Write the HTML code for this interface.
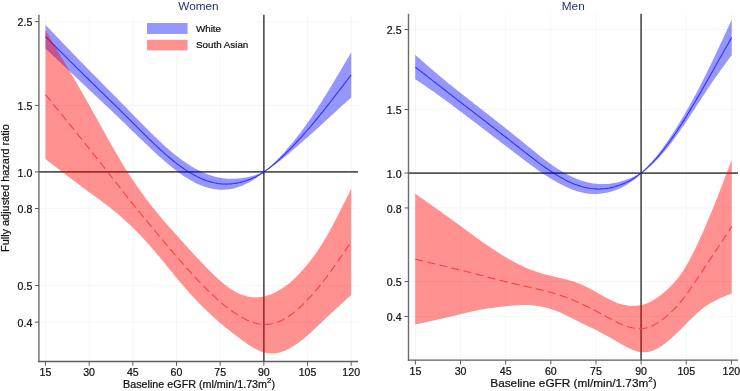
<!DOCTYPE html>
<html><head><meta charset="utf-8"><style>
html,body{margin:0;padding:0;background:#fff;overflow:hidden;width:740px;height:391px;}
svg{display:block;will-change:transform;}
text{font-family:"Liberation Sans",sans-serif;fill:#111;stroke:#111;stroke-width:0.22px;}
.tk{font-size:10.6px;}
.ttl{font-size:11.8px;fill:#23336a;stroke:none;}
.ax{font-size:10.9px;}
.sup{font-size:7.8px;}
.lg{font-size:9.8px;}
.yl{font-size:10.9px;}
</style></head><body>
<svg width="740" height="391" viewBox="0 0 740 391">
<rect width="740" height="391" fill="#fff"/>
<line x1="39.4" x2="358" y1="21.63" y2="21.63" stroke="#f3f7f8" stroke-width="1"/>
<line x1="39.4" x2="358" y1="105.40" y2="105.40" stroke="#f3f7f8" stroke-width="1"/>
<line x1="39.4" x2="358" y1="171.90" y2="171.90" stroke="#f3f7f8" stroke-width="1"/>
<line x1="39.4" x2="358" y1="208.50" y2="208.50" stroke="#f3f7f8" stroke-width="1"/>
<line x1="39.4" x2="358" y1="285.58" y2="285.58" stroke="#f3f7f8" stroke-width="1"/>
<line x1="39.4" x2="358" y1="322.17" y2="322.17" stroke="#f3f7f8" stroke-width="1"/>
<line x1="45.45" x2="45.45" y1="14.7" y2="361.45" stroke="#f3f7f8" stroke-width="1"/>
<line x1="89.13" x2="89.13" y1="14.7" y2="361.45" stroke="#f3f7f8" stroke-width="1"/>
<line x1="132.81" x2="132.81" y1="14.7" y2="361.45" stroke="#f3f7f8" stroke-width="1"/>
<line x1="176.49" x2="176.49" y1="14.7" y2="361.45" stroke="#f3f7f8" stroke-width="1"/>
<line x1="220.17" x2="220.17" y1="14.7" y2="361.45" stroke="#f3f7f8" stroke-width="1"/>
<line x1="263.85" x2="263.85" y1="14.7" y2="361.45" stroke="#f3f7f8" stroke-width="1"/>
<line x1="307.53" x2="307.53" y1="14.7" y2="361.45" stroke="#f3f7f8" stroke-width="1"/>
<line x1="351.21" x2="351.21" y1="14.7" y2="361.45" stroke="#f3f7f8" stroke-width="1"/>
<rect x="142" y="17" width="112" height="37" fill="#fff"/>
<line x1="38.9" x2="358" y1="171.95" y2="171.95" stroke="#555555" stroke-width="1.7"/>
<line x1="263.85" x2="263.85" y1="14.7" y2="361.45" stroke="#555555" stroke-width="1.7"/>
<path d="M45.50,24.84 L47.01,26.41 L48.51,27.99 L50.02,29.57 L51.52,31.15 L53.03,32.73 L54.54,34.30 L56.04,35.88 L57.55,37.46 L59.05,39.03 L60.56,40.61 L62.06,42.18 L63.57,43.75 L65.08,45.32 L66.58,46.89 L68.09,48.46 L69.59,50.03 L71.10,51.59 L72.61,53.16 L74.11,54.72 L75.62,56.28 L77.12,57.84 L78.63,59.40 L80.13,60.95 L81.64,62.50 L83.15,64.05 L84.65,65.60 L86.16,67.14 L87.66,68.68 L89.17,70.21 L90.68,71.74 L92.18,73.27 L93.69,74.79 L95.19,76.31 L96.70,77.83 L98.21,79.34 L99.71,80.86 L101.22,82.37 L102.72,83.89 L104.23,85.40 L105.73,86.92 L107.24,88.43 L108.75,89.95 L110.25,91.47 L111.76,92.99 L113.26,94.51 L114.77,96.04 L116.28,97.57 L117.78,99.11 L119.29,100.65 L120.79,102.19 L122.30,103.73 L123.80,105.28 L125.31,106.83 L126.82,108.37 L128.32,109.92 L129.83,111.47 L131.33,113.01 L132.84,114.56 L134.35,116.10 L135.85,117.64 L137.36,119.17 L138.86,120.71 L140.37,122.23 L141.88,123.76 L143.38,125.28 L144.89,126.79 L146.39,128.30 L147.90,129.80 L149.40,131.29 L150.91,132.77 L152.42,134.25 L153.92,135.72 L155.43,137.17 L156.93,138.62 L158.44,140.05 L159.95,141.47 L161.45,142.87 L162.96,144.26 L164.46,145.63 L165.97,146.98 L167.47,148.32 L168.98,149.63 L170.49,150.92 L171.99,152.20 L173.50,153.45 L175.00,154.67 L176.51,155.87 L178.02,157.05 L179.52,158.20 L181.03,159.33 L182.53,160.43 L184.04,161.50 L185.55,162.55 L187.05,163.56 L188.56,164.55 L190.06,165.50 L191.57,166.43 L193.07,167.32 L194.58,168.19 L196.09,169.02 L197.59,169.82 L199.10,170.58 L200.60,171.32 L202.11,172.02 L203.62,172.69 L205.12,173.32 L206.63,173.93 L208.13,174.49 L209.64,175.03 L211.14,175.52 L212.65,175.99 L214.16,176.41 L215.66,176.81 L217.17,177.16 L218.67,177.48 L220.18,177.77 L221.69,178.01 L223.19,178.22 L224.70,178.40 L226.20,178.54 L227.71,178.65 L229.22,178.72 L230.72,178.76 L232.23,178.77 L233.73,178.75 L235.24,178.70 L236.74,178.61 L238.25,178.50 L239.76,178.36 L241.26,178.19 L242.77,177.99 L244.27,177.77 L245.78,177.51 L247.29,177.23 L248.79,176.92 L250.30,176.58 L251.80,176.20 L253.31,175.79 L254.81,175.33 L256.32,174.84 L257.83,174.31 L259.33,173.74 L260.84,173.12 L262.34,172.46 L263.85,171.74 L265.36,170.80 L266.86,169.54 L268.37,168.24 L269.88,166.89 L271.38,165.50 L272.89,164.08 L274.40,162.62 L275.91,161.13 L277.41,159.61 L278.92,158.06 L280.43,156.48 L281.93,154.86 L283.44,153.22 L284.95,151.54 L286.45,149.84 L287.96,148.10 L289.47,146.34 L290.97,144.54 L292.48,142.72 L293.99,140.86 L295.49,138.98 L297.00,137.06 L298.51,135.11 L300.02,133.14 L301.52,131.13 L303.03,129.10 L304.54,127.03 L306.04,124.94 L307.55,122.81 L309.06,120.65 L310.56,118.47 L312.07,116.25 L313.58,114.01 L315.08,111.74 L316.59,109.44 L318.10,107.12 L319.61,104.77 L321.11,102.40 L322.62,100.00 L324.13,97.59 L325.63,95.16 L327.14,92.71 L328.65,90.24 L330.15,87.76 L331.66,85.27 L333.17,82.77 L334.67,80.26 L336.18,77.74 L337.69,75.21 L339.19,72.68 L340.70,70.15 L342.21,67.61 L343.72,65.06 L345.22,62.51 L346.73,59.96 L348.24,57.41 L349.74,54.86 L351.25,52.31 L351.25,97.41 L349.74,98.77 L348.24,100.14 L346.73,101.51 L345.22,102.88 L343.72,104.24 L342.21,105.62 L340.70,106.99 L339.19,108.37 L337.69,109.74 L336.18,111.13 L334.67,112.51 L333.17,113.90 L331.66,115.29 L330.15,116.69 L328.65,118.08 L327.14,119.47 L325.63,120.87 L324.13,122.25 L322.62,123.64 L321.11,125.02 L319.61,126.40 L318.10,127.77 L316.59,129.14 L315.08,130.50 L313.58,131.85 L312.07,133.20 L310.56,134.54 L309.06,135.88 L307.55,137.22 L306.04,138.54 L304.54,139.87 L303.03,141.19 L301.52,142.51 L300.02,143.82 L298.51,145.13 L297.00,146.44 L295.49,147.75 L293.99,149.05 L292.48,150.35 L290.97,151.64 L289.47,152.92 L287.96,154.20 L286.45,155.46 L284.95,156.72 L283.44,157.95 L281.93,159.18 L280.43,160.39 L278.92,161.57 L277.41,162.74 L275.91,163.88 L274.40,165.00 L272.89,166.09 L271.38,167.14 L269.88,168.17 L268.37,169.15 L266.86,170.10 L265.36,171.00 L263.85,172.13 L262.34,173.39 L260.84,174.60 L259.33,175.76 L257.83,176.87 L256.32,177.94 L254.81,178.96 L253.31,179.93 L251.80,180.85 L250.30,181.72 L248.79,182.55 L247.29,183.34 L245.78,184.08 L244.27,184.77 L242.77,185.42 L241.26,186.03 L239.76,186.59 L238.25,187.11 L236.74,187.58 L235.24,188.01 L233.73,188.39 L232.23,188.73 L230.72,189.02 L229.22,189.26 L227.71,189.46 L226.20,189.61 L224.70,189.72 L223.19,189.78 L221.69,189.79 L220.18,189.75 L218.67,189.67 L217.17,189.54 L215.66,189.36 L214.16,189.14 L212.65,188.87 L211.14,188.56 L209.64,188.21 L208.13,187.81 L206.63,187.37 L205.12,186.89 L203.62,186.36 L202.11,185.80 L200.60,185.20 L199.10,184.56 L197.59,183.88 L196.09,183.16 L194.58,182.41 L193.07,181.62 L191.57,180.79 L190.06,179.93 L188.56,179.04 L187.05,178.11 L185.55,177.15 L184.04,176.16 L182.53,175.14 L181.03,174.10 L179.52,173.02 L178.02,171.92 L176.51,170.79 L175.00,169.64 L173.50,168.46 L171.99,167.26 L170.49,166.04 L168.98,164.80 L167.47,163.54 L165.97,162.27 L164.46,160.97 L162.96,159.66 L161.45,158.33 L159.95,156.99 L158.44,155.64 L156.93,154.27 L155.43,152.90 L153.92,151.51 L152.42,150.11 L150.91,148.70 L149.40,147.29 L147.90,145.87 L146.39,144.44 L144.89,143.00 L143.38,141.56 L141.88,140.12 L140.37,138.67 L138.86,137.22 L137.36,135.76 L135.85,134.30 L134.35,132.84 L132.84,131.38 L131.33,129.91 L129.83,128.45 L128.32,126.98 L126.82,125.52 L125.31,124.06 L123.80,122.59 L122.30,121.13 L120.79,119.68 L119.29,118.22 L117.78,116.77 L116.28,115.33 L114.77,113.88 L113.26,112.45 L111.76,111.02 L110.25,109.59 L108.75,108.16 L107.24,106.74 L105.73,105.33 L104.23,103.91 L102.72,102.50 L101.22,101.08 L99.71,99.67 L98.21,98.26 L96.70,96.85 L95.19,95.44 L93.69,94.02 L92.18,92.61 L90.68,91.19 L89.17,89.77 L87.66,88.35 L86.16,86.93 L84.65,85.50 L83.15,84.08 L81.64,82.65 L80.13,81.22 L78.63,79.79 L77.12,78.36 L75.62,76.93 L74.11,75.51 L72.61,74.08 L71.10,72.66 L69.59,71.23 L68.09,69.81 L66.58,68.39 L65.08,66.97 L63.57,65.55 L62.06,64.14 L60.56,62.72 L59.05,61.30 L57.55,59.89 L56.04,58.47 L54.54,57.06 L53.03,55.64 L51.52,54.23 L50.02,52.82 L48.51,51.40 L47.01,49.99 L45.50,48.58 Z" fill="rgba(0,0,255,0.41)"/>
<path d="M45.50,36.71 L47.01,38.20 L48.51,39.70 L50.02,41.19 L51.52,42.69 L53.03,44.18 L54.54,45.68 L56.04,47.18 L57.55,48.67 L59.05,50.17 L60.56,51.66 L62.06,53.16 L63.57,54.65 L65.08,56.15 L66.58,57.64 L68.09,59.14 L69.59,60.63 L71.10,62.13 L72.61,63.62 L74.11,65.11 L75.62,66.61 L77.12,68.10 L78.63,69.59 L80.13,71.08 L81.64,72.57 L83.15,74.06 L84.65,75.55 L86.16,77.03 L87.66,78.51 L89.17,79.99 L90.68,81.47 L92.18,82.94 L93.69,84.41 L95.19,85.87 L96.70,87.34 L98.21,88.80 L99.71,90.27 L101.22,91.73 L102.72,93.19 L104.23,94.66 L105.73,96.12 L107.24,97.59 L108.75,99.06 L110.25,100.53 L111.76,102.00 L113.26,103.48 L114.77,104.96 L116.28,106.45 L117.78,107.94 L119.29,109.44 L120.79,110.93 L122.30,112.43 L123.80,113.94 L125.31,115.44 L126.82,116.95 L128.32,118.45 L129.83,119.96 L131.33,121.46 L132.84,122.97 L134.35,124.47 L135.85,125.97 L137.36,127.47 L138.86,128.96 L140.37,130.45 L141.88,131.94 L143.38,133.42 L144.89,134.90 L146.39,136.37 L147.90,137.83 L149.40,139.29 L150.91,140.74 L152.42,142.18 L153.92,143.61 L155.43,145.03 L156.93,146.45 L158.44,147.84 L159.95,149.23 L161.45,150.60 L162.96,151.96 L164.46,153.30 L165.97,154.62 L167.47,155.93 L168.98,157.22 L170.49,158.48 L171.99,159.73 L173.50,160.95 L175.00,162.15 L176.51,163.33 L178.02,164.48 L179.52,165.61 L181.03,166.71 L182.53,167.79 L184.04,168.83 L185.55,169.85 L187.05,170.84 L188.56,171.79 L190.06,172.72 L191.57,173.61 L193.07,174.47 L194.58,175.30 L196.09,176.09 L197.59,176.85 L199.10,177.57 L200.60,178.26 L202.11,178.91 L203.62,179.53 L205.12,180.11 L206.63,180.65 L208.13,181.15 L209.64,181.62 L211.14,182.04 L212.65,182.43 L214.16,182.78 L215.66,183.08 L217.17,183.35 L218.67,183.58 L220.18,183.76 L221.69,183.90 L223.19,184.00 L224.70,184.06 L226.20,184.08 L227.71,184.05 L229.22,183.99 L230.72,183.89 L232.23,183.75 L233.73,183.57 L235.24,183.35 L236.74,183.10 L238.25,182.80 L239.76,182.48 L241.26,182.11 L242.77,181.71 L244.27,181.27 L245.78,180.80 L247.29,180.29 L248.79,179.74 L250.30,179.15 L251.80,178.52 L253.31,177.86 L254.81,177.15 L256.32,176.39 L257.83,175.59 L259.33,174.75 L260.84,173.86 L262.34,172.92 L263.85,171.94 L265.36,170.90 L266.86,169.82 L268.37,168.69 L269.88,167.53 L271.38,166.32 L272.89,165.08 L274.40,163.81 L275.91,162.51 L277.41,161.18 L278.92,159.82 L280.43,158.43 L281.93,157.02 L283.44,155.59 L284.95,154.13 L286.45,152.65 L287.96,151.15 L289.47,149.63 L290.97,148.09 L292.48,146.53 L293.99,144.96 L295.49,143.36 L297.00,141.75 L298.51,140.12 L300.02,138.48 L301.52,136.82 L303.03,135.14 L304.54,133.45 L306.04,131.74 L307.55,130.01 L309.06,128.27 L310.56,126.51 L312.07,124.73 L313.58,122.93 L315.08,121.12 L316.59,119.29 L318.10,117.44 L319.61,115.58 L321.11,113.71 L322.62,111.82 L324.13,109.92 L325.63,108.01 L327.14,106.09 L328.65,104.16 L330.15,102.22 L331.66,100.28 L333.17,98.34 L334.67,96.38 L336.18,94.43 L337.69,92.48 L339.19,90.52 L340.70,88.57 L342.21,86.61 L343.72,84.65 L345.22,82.69 L346.73,80.74 L348.24,78.78 L349.74,76.82 L351.25,74.86" fill="none" stroke="rgba(0,0,255,0.68)" stroke-width="1.1"/>
<path d="M45.50,30.31 L47.01,32.84 L48.51,35.37 L50.02,37.91 L51.52,40.44 L53.03,42.97 L54.54,45.51 L56.04,48.05 L57.55,50.59 L59.06,53.13 L60.56,55.68 L62.07,58.23 L63.57,60.78 L65.08,63.34 L66.59,65.90 L68.09,68.46 L69.60,71.03 L71.10,73.61 L72.61,76.19 L74.12,78.78 L75.62,81.37 L77.13,83.97 L78.64,86.58 L80.14,89.19 L81.65,91.82 L83.15,94.45 L84.66,97.09 L86.17,99.74 L87.67,102.40 L89.18,105.08 L90.68,107.76 L92.19,110.45 L93.70,113.15 L95.20,115.85 L96.71,118.56 L98.22,121.27 L99.72,123.98 L101.23,126.69 L102.73,129.40 L104.24,132.10 L105.75,134.79 L107.25,137.48 L108.76,140.15 L110.26,142.82 L111.77,145.47 L113.28,148.10 L114.78,150.72 L116.29,153.32 L117.80,155.90 L119.30,158.45 L120.81,160.98 L122.31,163.48 L123.82,165.96 L125.33,168.40 L126.83,170.81 L128.34,173.19 L129.84,175.53 L131.35,177.84 L132.86,180.11 L134.36,182.35 L135.87,184.55 L137.38,186.72 L138.88,188.86 L140.39,190.97 L141.89,193.05 L143.40,195.10 L144.91,197.13 L146.41,199.13 L147.92,201.11 L149.42,203.07 L150.93,205.00 L152.44,206.92 L153.94,208.81 L155.45,210.69 L156.96,212.54 L158.46,214.37 L159.97,216.19 L161.47,217.98 L162.98,219.76 L164.49,221.52 L165.99,223.26 L167.50,224.99 L169.00,226.71 L170.51,228.42 L172.02,230.12 L173.52,231.82 L175.03,233.51 L176.54,235.19 L178.04,236.86 L179.55,238.54 L181.05,240.20 L182.56,241.87 L184.07,243.53 L185.57,245.19 L187.08,246.84 L188.58,248.49 L190.09,250.13 L191.60,251.77 L193.10,253.40 L194.61,255.02 L196.12,256.64 L197.62,258.25 L199.13,259.85 L200.63,261.45 L202.14,263.03 L203.65,264.60 L205.15,266.16 L206.66,267.71 L208.17,269.24 L209.67,270.76 L211.18,272.27 L212.68,273.75 L214.19,275.21 L215.70,276.65 L217.20,278.06 L218.71,279.43 L220.21,280.77 L221.72,282.07 L223.23,283.33 L224.73,284.54 L226.24,285.71 L227.75,286.83 L229.25,287.90 L230.76,288.92 L232.26,289.88 L233.77,290.80 L235.28,291.66 L236.78,292.46 L238.29,293.20 L239.79,293.89 L241.30,294.52 L242.81,295.08 L244.31,295.59 L245.82,296.04 L247.33,296.42 L248.83,296.75 L250.34,297.01 L251.84,297.21 L253.35,297.34 L254.86,297.41 L256.36,297.42 L257.87,297.36 L259.37,297.24 L260.88,297.06 L262.39,296.82 L263.89,296.51 L265.40,296.15 L266.91,295.73 L268.41,295.25 L269.92,294.72 L271.42,294.13 L272.93,293.49 L274.44,292.80 L275.94,292.06 L277.45,291.27 L278.95,290.43 L280.46,289.53 L281.97,288.59 L283.47,287.58 L284.98,286.53 L286.49,285.41 L287.99,284.24 L289.50,283.02 L291.00,281.75 L292.51,280.42 L294.02,279.04 L295.52,277.60 L297.03,276.11 L298.53,274.57 L300.04,272.97 L301.55,271.32 L303.05,269.61 L304.56,267.86 L306.07,266.06 L307.57,264.21 L309.08,262.32 L310.58,260.39 L312.09,258.41 L313.60,256.38 L315.10,254.30 L316.61,252.16 L318.11,249.96 L319.62,247.70 L321.13,245.38 L322.63,242.98 L324.14,240.53 L325.65,238.00 L327.15,235.42 L328.66,232.77 L330.16,230.06 L331.67,227.30 L333.18,224.48 L334.68,221.62 L336.19,218.71 L337.69,215.77 L339.20,212.80 L340.71,209.81 L342.21,206.80 L343.72,203.78 L345.23,200.76 L346.73,197.72 L348.24,194.68 L349.74,191.63 L351.25,188.58 L351.25,295.06 L349.74,296.40 L348.24,297.75 L346.73,299.10 L345.23,300.45 L343.72,301.81 L342.21,303.17 L340.71,304.53 L339.20,305.90 L337.69,307.27 L336.19,308.65 L334.68,310.04 L333.18,311.43 L331.67,312.84 L330.16,314.24 L328.66,315.66 L327.15,317.08 L325.65,318.51 L324.14,319.94 L322.63,321.37 L321.13,322.80 L319.62,324.23 L318.11,325.66 L316.61,327.08 L315.10,328.50 L313.60,329.90 L312.09,331.29 L310.58,332.66 L309.08,334.01 L307.57,335.33 L306.07,336.64 L304.56,337.91 L303.05,339.15 L301.55,340.36 L300.04,341.53 L298.53,342.66 L297.03,343.75 L295.52,344.79 L294.02,345.78 L292.51,346.73 L291.00,347.62 L289.50,348.47 L287.99,349.26 L286.49,349.99 L284.98,350.66 L283.47,351.27 L281.97,351.81 L280.46,352.28 L278.95,352.67 L277.45,353.00 L275.94,353.25 L274.44,353.42 L272.93,353.51 L271.42,353.52 L269.92,353.45 L268.41,353.30 L266.91,353.07 L265.40,352.76 L263.89,352.38 L262.39,351.92 L260.88,351.38 L259.37,350.78 L257.87,350.11 L256.36,349.37 L254.86,348.58 L253.35,347.73 L251.84,346.84 L250.34,345.89 L248.83,344.91 L247.33,343.89 L245.82,342.84 L244.31,341.77 L242.81,340.67 L241.30,339.56 L239.79,338.44 L238.29,337.31 L236.78,336.17 L235.28,335.03 L233.77,333.88 L232.26,332.72 L230.76,331.55 L229.25,330.37 L227.75,329.18 L226.24,327.98 L224.73,326.76 L223.23,325.52 L221.72,324.27 L220.21,322.99 L218.71,321.69 L217.20,320.37 L215.70,319.02 L214.19,317.66 L212.68,316.28 L211.18,314.89 L209.67,313.49 L208.17,312.08 L206.66,310.66 L205.15,309.22 L203.65,307.77 L202.14,306.30 L200.63,304.81 L199.13,303.30 L197.62,301.77 L196.12,300.21 L194.61,298.62 L193.10,297.00 L191.60,295.36 L190.09,293.68 L188.58,291.99 L187.08,290.27 L185.57,288.54 L184.07,286.78 L182.56,285.02 L181.05,283.23 L179.55,281.44 L178.04,279.63 L176.54,277.82 L175.03,275.99 L173.52,274.17 L172.02,272.33 L170.51,270.49 L169.00,268.65 L167.50,266.80 L165.99,264.96 L164.49,263.11 L162.98,261.27 L161.47,259.44 L159.97,257.61 L158.46,255.80 L156.96,253.99 L155.45,252.20 L153.94,250.42 L152.44,248.66 L150.93,246.92 L149.42,245.20 L147.92,243.50 L146.41,241.83 L144.91,240.17 L143.40,238.54 L141.89,236.93 L140.39,235.34 L138.88,233.78 L137.38,232.23 L135.87,230.70 L134.36,229.20 L132.86,227.71 L131.35,226.25 L129.84,224.80 L128.34,223.38 L126.83,221.97 L125.33,220.59 L123.82,219.23 L122.31,217.88 L120.81,216.55 L119.30,215.25 L117.80,213.96 L116.29,212.69 L114.78,211.44 L113.28,210.20 L111.77,208.99 L110.26,207.79 L108.76,206.61 L107.25,205.45 L105.75,204.30 L104.24,203.17 L102.73,202.04 L101.23,200.93 L99.72,199.82 L98.22,198.72 L96.71,197.63 L95.20,196.54 L93.70,195.45 L92.19,194.36 L90.68,193.27 L89.18,192.18 L87.67,191.08 L86.17,189.97 L84.66,188.86 L83.15,187.75 L81.65,186.63 L80.14,185.51 L78.64,184.38 L77.13,183.25 L75.62,182.12 L74.12,180.99 L72.61,179.85 L71.10,178.71 L69.60,177.56 L68.09,176.42 L66.59,175.27 L65.08,174.12 L63.57,172.97 L62.07,171.82 L60.56,170.67 L59.06,169.52 L57.55,168.36 L56.04,167.20 L54.54,166.05 L53.03,164.89 L51.52,163.73 L50.02,162.57 L48.51,161.41 L47.01,160.25 L45.50,159.09 Z" fill="rgba(255,0,0,0.43)"/>
<path d="M45.50,94.70 L47.01,96.55 L48.51,98.39 L50.02,100.24 L51.52,102.09 L53.03,103.93 L54.54,105.78 L56.04,107.63 L57.55,109.47 L59.06,111.32 L60.56,113.17 L62.07,115.02 L63.57,116.88 L65.08,118.73 L66.59,120.58 L68.09,122.44 L69.60,124.30 L71.10,126.16 L72.61,128.02 L74.12,129.88 L75.62,131.75 L77.13,133.61 L78.64,135.48 L80.14,137.35 L81.65,139.22 L83.15,141.10 L84.66,142.98 L86.17,144.86 L87.67,146.74 L89.18,148.63 L90.68,150.51 L92.19,152.41 L93.70,154.30 L95.20,156.20 L96.71,158.10 L98.22,160.00 L99.72,161.90 L101.23,163.81 L102.73,165.72 L104.24,167.63 L105.75,169.55 L107.25,171.46 L108.76,173.38 L110.26,175.30 L111.77,177.23 L113.28,179.15 L114.78,181.08 L116.29,183.00 L117.80,184.93 L119.30,186.85 L120.81,188.77 L122.31,190.68 L123.82,192.59 L125.33,194.50 L126.83,196.39 L128.34,198.28 L129.84,200.17 L131.35,202.04 L132.86,203.91 L134.36,205.77 L135.87,207.63 L137.38,209.47 L138.88,211.32 L140.39,213.16 L141.89,214.99 L143.40,216.82 L144.91,218.65 L146.41,220.48 L147.92,222.31 L149.42,224.13 L150.93,225.96 L152.44,227.79 L153.94,229.62 L155.45,231.44 L156.96,233.26 L158.46,235.08 L159.97,236.90 L161.47,238.71 L162.98,240.52 L164.49,242.31 L165.99,244.11 L167.50,245.90 L169.00,247.68 L170.51,249.46 L172.02,251.23 L173.52,252.99 L175.03,254.75 L176.54,256.50 L178.04,258.25 L179.55,259.99 L181.05,261.72 L182.56,263.44 L184.07,265.16 L185.57,266.86 L187.08,268.56 L188.58,270.24 L190.09,271.91 L191.60,273.56 L193.10,275.20 L194.61,276.82 L196.12,278.42 L197.62,280.01 L199.13,281.58 L200.63,283.13 L202.14,284.67 L203.65,286.19 L205.15,287.69 L206.66,289.18 L208.17,290.66 L209.67,292.13 L211.18,293.58 L212.68,295.02 L214.19,296.44 L215.70,297.84 L217.20,299.21 L218.71,300.56 L220.21,301.88 L221.72,303.17 L223.23,304.43 L224.73,305.65 L226.24,306.84 L227.75,308.00 L229.25,309.13 L230.76,310.23 L232.26,311.30 L233.77,312.34 L235.28,313.34 L236.78,314.31 L238.29,315.26 L239.79,316.16 L241.30,317.04 L242.81,317.88 L244.31,318.68 L245.82,319.44 L247.33,320.16 L248.83,320.83 L250.34,321.45 L251.84,322.02 L253.35,322.54 L254.86,323.00 L256.36,323.40 L257.87,323.73 L259.37,324.01 L260.88,324.22 L262.39,324.37 L263.89,324.45 L265.40,324.46 L266.91,324.40 L268.41,324.27 L269.92,324.08 L271.42,323.83 L272.93,323.50 L274.44,323.11 L275.94,322.66 L277.45,322.14 L278.95,321.55 L280.46,320.91 L281.97,320.20 L283.47,319.43 L284.98,318.59 L286.49,317.70 L287.99,316.75 L289.50,315.74 L291.00,314.68 L292.51,313.57 L294.02,312.41 L295.52,311.20 L297.03,309.93 L298.53,308.61 L300.04,307.25 L301.55,305.84 L303.05,304.38 L304.56,302.88 L306.07,301.35 L307.57,299.77 L309.08,298.16 L310.58,296.52 L312.09,294.85 L313.60,293.14 L315.10,291.40 L316.61,289.62 L318.11,287.81 L319.62,285.97 L321.13,284.09 L322.63,282.18 L324.14,280.23 L325.65,278.26 L327.15,276.25 L328.66,274.22 L330.16,272.15 L331.67,270.07 L333.18,267.96 L334.68,265.83 L336.19,263.68 L337.69,261.52 L339.20,259.35 L340.71,257.17 L342.21,254.98 L343.72,252.80 L345.23,250.60 L346.73,248.41 L348.24,246.21 L349.74,244.02 L351.25,241.82" fill="none" stroke="#ff3c3c" stroke-width="1.1" stroke-dasharray="8.2 4.2"/>
<line x1="38.9" x2="38.9" y1="14.7" y2="362.15" stroke="#6c6c6c" stroke-width="1.4"/>
<line x1="38.199999999999996" x2="358" y1="361.45" y2="361.45" stroke="#5c5c5c" stroke-width="1.4"/>
<line x1="34.9" x2="38.9" y1="21.63" y2="21.63" stroke="#5c5c5c" stroke-width="1"/>
<text x="32.3" y="26.43" text-anchor="end" class="tk">2.5</text>
<line x1="34.9" x2="38.9" y1="105.40" y2="105.40" stroke="#5c5c5c" stroke-width="1"/>
<text x="32.3" y="110.20" text-anchor="end" class="tk">1.5</text>
<line x1="34.9" x2="38.9" y1="171.90" y2="171.90" stroke="#5c5c5c" stroke-width="1"/>
<text x="32.3" y="176.70" text-anchor="end" class="tk">1.0</text>
<line x1="34.9" x2="38.9" y1="208.50" y2="208.50" stroke="#5c5c5c" stroke-width="1"/>
<text x="32.3" y="213.30" text-anchor="end" class="tk">0.8</text>
<line x1="34.9" x2="38.9" y1="285.58" y2="285.58" stroke="#5c5c5c" stroke-width="1"/>
<text x="32.3" y="290.38" text-anchor="end" class="tk">0.5</text>
<line x1="34.9" x2="38.9" y1="322.17" y2="322.17" stroke="#5c5c5c" stroke-width="1"/>
<text x="32.3" y="326.97" text-anchor="end" class="tk">0.4</text>
<line x1="45.45" x2="45.45" y1="361.45" y2="365.75" stroke="#5c5c5c" stroke-width="1"/>
<text x="45.45" y="375.80" text-anchor="middle" class="tk">15</text>
<line x1="89.13" x2="89.13" y1="361.45" y2="365.75" stroke="#5c5c5c" stroke-width="1"/>
<text x="89.13" y="375.80" text-anchor="middle" class="tk">30</text>
<line x1="132.81" x2="132.81" y1="361.45" y2="365.75" stroke="#5c5c5c" stroke-width="1"/>
<text x="132.81" y="375.80" text-anchor="middle" class="tk">45</text>
<line x1="176.49" x2="176.49" y1="361.45" y2="365.75" stroke="#5c5c5c" stroke-width="1"/>
<text x="176.49" y="375.80" text-anchor="middle" class="tk">60</text>
<line x1="220.17" x2="220.17" y1="361.45" y2="365.75" stroke="#5c5c5c" stroke-width="1"/>
<text x="220.17" y="375.80" text-anchor="middle" class="tk">75</text>
<line x1="263.85" x2="263.85" y1="361.45" y2="365.75" stroke="#5c5c5c" stroke-width="1"/>
<text x="263.85" y="375.80" text-anchor="middle" class="tk">90</text>
<line x1="307.53" x2="307.53" y1="361.45" y2="365.75" stroke="#5c5c5c" stroke-width="1"/>
<text x="307.53" y="375.80" text-anchor="middle" class="tk">105</text>
<line x1="351.21" x2="351.21" y1="361.45" y2="365.75" stroke="#5c5c5c" stroke-width="1"/>
<text x="351.21" y="375.80" text-anchor="middle" class="tk">120</text>
<text x="198.45" y="10.2" text-anchor="middle" class="ttl">Women</text>
<text x="199.05" y="387.70" text-anchor="middle" class="ax" style="font-size:10.75px">Baseline eGFR (ml/min/1.73m<tspan class="sup" dy="-4.6">2</tspan><tspan dy="4.6">)</tspan></text>
<line x1="409.0" x2="738" y1="29.51" y2="29.51" stroke="#f3f7f8" stroke-width="1"/>
<line x1="409.0" x2="738" y1="109.50" y2="109.50" stroke="#f3f7f8" stroke-width="1"/>
<line x1="409.0" x2="738" y1="173.00" y2="173.00" stroke="#f3f7f8" stroke-width="1"/>
<line x1="409.0" x2="738" y1="207.94" y2="207.94" stroke="#f3f7f8" stroke-width="1"/>
<line x1="409.0" x2="738" y1="281.55" y2="281.55" stroke="#f3f7f8" stroke-width="1"/>
<line x1="409.0" x2="738" y1="316.49" y2="316.49" stroke="#f3f7f8" stroke-width="1"/>
<line x1="415.40" x2="415.40" y1="13.7" y2="360.15" stroke="#f3f7f8" stroke-width="1"/>
<line x1="460.54" x2="460.54" y1="13.7" y2="360.15" stroke="#f3f7f8" stroke-width="1"/>
<line x1="505.68" x2="505.68" y1="13.7" y2="360.15" stroke="#f3f7f8" stroke-width="1"/>
<line x1="550.83" x2="550.83" y1="13.7" y2="360.15" stroke="#f3f7f8" stroke-width="1"/>
<line x1="595.97" x2="595.97" y1="13.7" y2="360.15" stroke="#f3f7f8" stroke-width="1"/>
<line x1="641.11" x2="641.11" y1="13.7" y2="360.15" stroke="#f3f7f8" stroke-width="1"/>
<line x1="686.25" x2="686.25" y1="13.7" y2="360.15" stroke="#f3f7f8" stroke-width="1"/>
<line x1="731.40" x2="731.40" y1="13.7" y2="360.15" stroke="#f3f7f8" stroke-width="1"/>
<line x1="408.5" x2="738" y1="173.10" y2="173.10" stroke="#555555" stroke-width="1.7"/>
<line x1="641.10" x2="641.10" y1="13.7" y2="360.15" stroke="#555555" stroke-width="1.7"/>
<path d="M415.25,54.80 L416.76,56.13 L418.26,57.47 L419.77,58.80 L421.27,60.12 L422.78,61.45 L424.28,62.77 L425.79,64.09 L427.30,65.41 L428.80,66.72 L430.31,68.02 L431.81,69.32 L433.32,70.61 L434.82,71.90 L436.33,73.18 L437.83,74.45 L439.34,75.72 L440.85,76.97 L442.35,78.23 L443.86,79.47 L445.36,80.72 L446.87,81.95 L448.37,83.18 L449.88,84.40 L451.39,85.62 L452.89,86.84 L454.40,88.04 L455.90,89.25 L457.41,90.45 L458.91,91.64 L460.42,92.84 L461.93,94.03 L463.43,95.21 L464.94,96.39 L466.44,97.58 L467.95,98.75 L469.45,99.93 L470.96,101.11 L472.47,102.28 L473.97,103.46 L475.48,104.63 L476.98,105.81 L478.49,106.99 L479.99,108.16 L481.50,109.34 L483.00,110.52 L484.51,111.69 L486.02,112.87 L487.52,114.05 L489.03,115.23 L490.53,116.41 L492.04,117.59 L493.54,118.77 L495.05,119.94 L496.56,121.12 L498.06,122.31 L499.57,123.49 L501.07,124.67 L502.58,125.86 L504.08,127.05 L505.59,128.24 L507.10,129.43 L508.60,130.62 L510.11,131.82 L511.61,133.02 L513.12,134.22 L514.62,135.43 L516.13,136.64 L517.64,137.85 L519.14,139.06 L520.65,140.28 L522.15,141.50 L523.66,142.72 L525.16,143.94 L526.67,145.17 L528.17,146.39 L529.68,147.62 L531.19,148.85 L532.69,150.08 L534.20,151.31 L535.70,152.53 L537.21,153.75 L538.71,154.95 L540.22,156.15 L541.73,157.33 L543.23,158.50 L544.74,159.66 L546.24,160.80 L547.75,161.92 L549.25,163.02 L550.76,164.09 L552.27,165.15 L553.77,166.17 L555.28,167.18 L556.78,168.16 L558.29,169.13 L559.79,170.06 L561.30,170.98 L562.81,171.88 L564.31,172.75 L565.82,173.60 L567.32,174.42 L568.83,175.22 L570.33,175.99 L571.84,176.72 L573.35,177.42 L574.85,178.09 L576.36,178.72 L577.86,179.32 L579.37,179.88 L580.87,180.41 L582.38,180.91 L583.88,181.37 L585.39,181.79 L586.90,182.18 L588.40,182.54 L589.91,182.86 L591.41,183.14 L592.92,183.39 L594.42,183.60 L595.93,183.78 L597.44,183.92 L598.94,184.02 L600.45,184.09 L601.95,184.12 L603.46,184.12 L604.96,184.08 L606.47,184.01 L607.98,183.90 L609.48,183.76 L610.99,183.58 L612.49,183.37 L614.00,183.12 L615.50,182.83 L617.01,182.50 L618.51,182.13 L620.02,181.73 L621.53,181.30 L623.03,180.83 L624.54,180.33 L626.04,179.81 L627.55,179.25 L629.05,178.66 L630.56,178.05 L632.07,177.39 L633.57,176.70 L635.08,175.97 L636.58,175.20 L638.09,174.39 L639.59,173.53 L641.10,172.61 L642.61,171.58 L644.12,170.10 L645.63,168.57 L647.14,166.99 L648.65,165.36 L650.16,163.68 L651.67,161.96 L653.18,160.19 L654.69,158.38 L656.20,156.53 L657.71,154.64 L659.22,152.70 L660.73,150.73 L662.24,148.71 L663.75,146.65 L665.26,144.54 L666.77,142.40 L668.28,140.21 L669.79,137.98 L671.30,135.71 L672.81,133.40 L674.32,131.06 L675.83,128.68 L677.34,126.26 L678.85,123.81 L680.36,121.33 L681.87,118.82 L683.38,116.28 L684.89,113.71 L686.40,111.10 L687.91,108.47 L689.42,105.80 L690.93,103.10 L692.44,100.36 L693.95,97.59 L695.46,94.79 L696.97,91.94 L698.48,89.06 L699.99,86.15 L701.50,83.20 L703.01,80.23 L704.52,77.22 L706.03,74.18 L707.54,71.12 L709.05,68.03 L710.56,64.92 L712.07,61.78 L713.58,58.63 L715.09,55.46 L716.60,52.28 L718.11,49.08 L719.62,45.86 L721.13,42.62 L722.64,39.38 L724.15,36.12 L725.66,32.86 L727.17,29.59 L728.68,26.31 L730.19,23.04 L731.70,19.76 L731.70,55.15 L730.19,57.19 L728.68,59.23 L727.17,61.27 L725.66,63.33 L724.15,65.39 L722.64,67.47 L721.13,69.55 L719.62,71.66 L718.11,73.78 L716.60,75.92 L715.09,78.08 L713.58,80.26 L712.07,82.46 L710.56,84.67 L709.05,86.91 L707.54,89.17 L706.03,91.45 L704.52,93.74 L703.01,96.05 L701.50,98.37 L699.99,100.69 L698.48,103.01 L696.97,105.34 L695.46,107.66 L693.95,109.97 L692.44,112.28 L690.93,114.58 L689.42,116.87 L687.91,119.15 L686.40,121.41 L684.89,123.66 L683.38,125.90 L681.87,128.11 L680.36,130.31 L678.85,132.48 L677.34,134.62 L675.83,136.74 L674.32,138.82 L672.81,140.87 L671.30,142.89 L669.79,144.86 L668.28,146.79 L666.77,148.67 L665.26,150.51 L663.75,152.30 L662.24,154.05 L660.73,155.75 L659.22,157.39 L657.71,158.99 L656.20,160.54 L654.69,162.04 L653.18,163.49 L651.67,164.89 L650.16,166.23 L648.65,167.53 L647.14,168.77 L645.63,169.95 L644.12,171.09 L642.61,172.17 L641.10,173.58 L639.59,175.01 L638.09,176.38 L636.58,177.69 L635.08,178.95 L633.57,180.14 L632.07,181.27 L630.56,182.35 L629.05,183.37 L627.55,184.33 L626.04,185.25 L624.54,186.11 L623.03,186.92 L621.53,187.69 L620.02,188.40 L618.51,189.07 L617.01,189.69 L615.50,190.27 L614.00,190.79 L612.49,191.28 L610.99,191.72 L609.48,192.12 L607.98,192.48 L606.47,192.81 L604.96,193.09 L603.46,193.34 L601.95,193.55 L600.45,193.73 L598.94,193.86 L597.44,193.96 L595.93,194.01 L594.42,194.02 L592.92,193.98 L591.41,193.91 L589.91,193.79 L588.40,193.64 L586.90,193.44 L585.39,193.20 L583.88,192.93 L582.38,192.61 L580.87,192.26 L579.37,191.86 L577.86,191.43 L576.36,190.97 L574.85,190.46 L573.35,189.92 L571.84,189.34 L570.33,188.73 L568.83,188.09 L567.32,187.41 L565.82,186.71 L564.31,185.98 L562.81,185.24 L561.30,184.47 L559.79,183.69 L558.29,182.88 L556.78,182.06 L555.28,181.22 L553.77,180.36 L552.27,179.48 L550.76,178.57 L549.25,177.65 L547.75,176.70 L546.24,175.74 L544.74,174.75 L543.23,173.75 L541.73,172.73 L540.22,171.70 L538.71,170.65 L537.21,169.59 L535.70,168.51 L534.20,167.43 L532.69,166.34 L531.19,165.23 L529.68,164.12 L528.17,163.01 L526.67,161.88 L525.16,160.76 L523.66,159.63 L522.15,158.49 L520.65,157.35 L519.14,156.21 L517.64,155.07 L516.13,153.92 L514.62,152.77 L513.12,151.62 L511.61,150.47 L510.11,149.32 L508.60,148.17 L507.10,147.01 L505.59,145.86 L504.08,144.71 L502.58,143.56 L501.07,142.40 L499.57,141.25 L498.06,140.10 L496.56,138.95 L495.05,137.80 L493.54,136.65 L492.04,135.50 L490.53,134.35 L489.03,133.20 L487.52,132.05 L486.02,130.89 L484.51,129.74 L483.00,128.59 L481.50,127.44 L479.99,126.29 L478.49,125.15 L476.98,124.00 L475.48,122.86 L473.97,121.71 L472.47,120.57 L470.96,119.43 L469.45,118.29 L467.95,117.15 L466.44,116.01 L464.94,114.87 L463.43,113.73 L461.93,112.60 L460.42,111.46 L458.91,110.33 L457.41,109.20 L455.90,108.07 L454.40,106.94 L452.89,105.81 L451.39,104.69 L449.88,103.56 L448.37,102.45 L446.87,101.33 L445.36,100.22 L443.86,99.11 L442.35,98.01 L440.85,96.91 L439.34,95.82 L437.83,94.74 L436.33,93.66 L434.82,92.60 L433.32,91.54 L431.81,90.49 L430.31,89.45 L428.80,88.42 L427.30,87.39 L425.79,86.37 L424.28,85.36 L422.78,84.35 L421.27,83.34 L419.77,82.34 L418.26,81.34 L416.76,80.34 L415.25,79.35 Z" fill="rgba(0,0,255,0.41)"/>
<path d="M415.25,67.07 L416.76,68.24 L418.26,69.40 L419.77,70.57 L421.27,71.73 L422.78,72.90 L424.28,74.06 L425.79,75.23 L427.30,76.40 L428.80,77.57 L430.31,78.74 L431.81,79.91 L433.32,81.08 L434.82,82.25 L436.33,83.42 L437.83,84.60 L439.34,85.77 L440.85,86.94 L442.35,88.12 L443.86,89.29 L445.36,90.47 L446.87,91.64 L448.37,92.81 L449.88,93.98 L451.39,95.15 L452.89,96.32 L454.40,97.49 L455.90,98.66 L457.41,99.82 L458.91,100.99 L460.42,102.15 L461.93,103.31 L463.43,104.47 L464.94,105.63 L466.44,106.79 L467.95,107.95 L469.45,109.11 L470.96,110.27 L472.47,111.43 L473.97,112.59 L475.48,113.75 L476.98,114.91 L478.49,116.07 L479.99,117.23 L481.50,118.39 L483.00,119.55 L484.51,120.72 L486.02,121.88 L487.52,123.05 L489.03,124.21 L490.53,125.38 L492.04,126.54 L493.54,127.71 L495.05,128.87 L496.56,130.04 L498.06,131.20 L499.57,132.37 L501.07,133.54 L502.58,134.71 L504.08,135.88 L505.59,137.05 L507.10,138.22 L508.60,139.39 L510.11,140.57 L511.61,141.75 L513.12,142.92 L514.62,144.10 L516.13,145.28 L517.64,146.46 L519.14,147.64 L520.65,148.82 L522.15,149.99 L523.66,151.17 L525.16,152.35 L526.67,153.53 L528.17,154.70 L529.68,155.87 L531.19,157.04 L532.69,158.21 L534.20,159.37 L535.70,160.52 L537.21,161.67 L538.71,162.80 L540.22,163.92 L541.73,165.03 L543.23,166.13 L544.74,167.20 L546.24,168.27 L547.75,169.31 L549.25,170.33 L550.76,171.33 L552.27,172.31 L553.77,173.27 L555.28,174.20 L556.78,175.11 L558.29,176.00 L559.79,176.87 L561.30,177.73 L562.81,178.56 L564.31,179.37 L565.82,180.16 L567.32,180.92 L568.83,181.65 L570.33,182.36 L571.84,183.03 L573.35,183.67 L574.85,184.28 L576.36,184.84 L577.86,185.38 L579.37,185.87 L580.87,186.33 L582.38,186.76 L583.88,187.15 L585.39,187.50 L586.90,187.81 L588.40,188.09 L589.91,188.33 L591.41,188.53 L592.92,188.69 L594.42,188.81 L595.93,188.89 L597.44,188.94 L598.94,188.94 L600.45,188.91 L601.95,188.84 L603.46,188.73 L604.96,188.59 L606.47,188.41 L607.98,188.19 L609.48,187.94 L610.99,187.65 L612.49,187.32 L614.00,186.96 L615.50,186.55 L617.01,186.09 L618.51,185.60 L620.02,185.07 L621.53,184.49 L623.03,183.88 L624.54,183.22 L626.04,182.53 L627.55,181.79 L629.05,181.02 L630.56,180.20 L632.07,179.33 L633.57,178.42 L635.08,177.46 L636.58,176.45 L638.09,175.38 L639.59,174.27 L641.10,173.10 L642.61,171.87 L644.12,170.59 L645.63,169.26 L647.14,167.88 L648.65,166.44 L650.16,164.96 L651.67,163.42 L653.18,161.84 L654.69,160.21 L656.20,158.54 L657.71,156.82 L659.22,155.05 L660.73,153.24 L662.24,151.38 L663.75,149.48 L665.26,147.53 L666.77,145.54 L668.28,143.50 L669.79,141.42 L671.30,139.30 L672.81,137.14 L674.32,134.94 L675.83,132.71 L677.34,130.44 L678.85,128.15 L680.36,125.82 L681.87,123.47 L683.38,121.09 L684.89,118.68 L686.40,116.26 L687.91,113.81 L689.42,111.34 L690.93,108.84 L692.44,106.32 L693.95,103.78 L695.46,101.22 L696.97,98.64 L698.48,96.04 L699.99,93.42 L701.50,90.79 L703.01,88.14 L704.52,85.48 L706.03,82.82 L707.54,80.15 L709.05,77.47 L710.56,74.80 L712.07,72.12 L713.58,69.45 L715.09,66.77 L716.60,64.10 L718.11,61.43 L719.62,58.76 L721.13,56.09 L722.64,53.42 L724.15,50.76 L725.66,48.09 L727.17,45.43 L728.68,42.77 L730.19,40.11 L731.70,37.45" fill="none" stroke="rgba(0,0,255,0.68)" stroke-width="1.1"/>
<path d="M415.25,193.78 L416.76,194.84 L418.26,195.89 L419.77,196.94 L421.28,198.00 L422.78,199.05 L424.29,200.11 L425.80,201.16 L427.31,202.22 L428.81,203.28 L430.32,204.33 L431.83,205.39 L433.33,206.46 L434.84,207.52 L436.35,208.58 L437.85,209.65 L439.36,210.72 L440.87,211.79 L442.37,212.86 L443.88,213.93 L445.39,215.01 L446.89,216.09 L448.40,217.17 L449.91,218.26 L451.42,219.34 L452.92,220.43 L454.43,221.53 L455.94,222.62 L457.44,223.72 L458.95,224.83 L460.46,225.93 L461.96,227.05 L463.47,228.16 L464.98,229.27 L466.48,230.39 L467.99,231.50 L469.50,232.61 L471.01,233.72 L472.51,234.82 L474.02,235.92 L475.53,237.02 L477.03,238.11 L478.54,239.19 L480.05,240.26 L481.55,241.33 L483.06,242.39 L484.57,243.45 L486.07,244.49 L487.58,245.53 L489.09,246.56 L490.60,247.58 L492.10,248.59 L493.61,249.59 L495.12,250.58 L496.62,251.56 L498.13,252.52 L499.64,253.48 L501.14,254.42 L502.65,255.35 L504.16,256.27 L505.66,257.18 L507.17,258.07 L508.68,258.94 L510.19,259.80 L511.69,260.65 L513.20,261.48 L514.71,262.29 L516.21,263.09 L517.72,263.87 L519.23,264.63 L520.73,265.37 L522.24,266.09 L523.75,266.79 L525.25,267.47 L526.76,268.13 L528.27,268.77 L529.77,269.39 L531.28,269.98 L532.79,270.55 L534.30,271.10 L535.80,271.62 L537.31,272.12 L538.82,272.59 L540.32,273.05 L541.83,273.49 L543.34,273.91 L544.84,274.31 L546.35,274.70 L547.86,275.09 L549.36,275.46 L550.87,275.82 L552.38,276.18 L553.89,276.54 L555.39,276.89 L556.90,277.25 L558.41,277.60 L559.91,277.96 L561.42,278.32 L562.93,278.68 L564.43,279.05 L565.94,279.43 L567.45,279.82 L568.95,280.23 L570.46,280.65 L571.97,281.10 L573.48,281.57 L574.98,282.07 L576.49,282.60 L578.00,283.16 L579.50,283.75 L581.01,284.37 L582.52,285.03 L584.02,285.71 L585.53,286.42 L587.04,287.16 L588.54,287.92 L590.05,288.71 L591.56,289.52 L593.06,290.35 L594.57,291.19 L596.08,292.05 L597.59,292.92 L599.09,293.79 L600.60,294.66 L602.11,295.53 L603.61,296.38 L605.12,297.23 L606.63,298.05 L608.13,298.85 L609.64,299.62 L611.15,300.36 L612.65,301.07 L614.16,301.74 L615.67,302.37 L617.18,302.94 L618.68,303.47 L620.19,303.95 L621.70,304.37 L623.20,304.74 L624.71,305.05 L626.22,305.32 L627.72,305.53 L629.23,305.69 L630.74,305.80 L632.24,305.85 L633.75,305.86 L635.26,305.81 L636.77,305.71 L638.27,305.54 L639.78,305.31 L641.29,305.02 L642.79,304.66 L644.30,304.22 L645.81,303.72 L647.31,303.15 L648.82,302.50 L650.33,301.77 L651.83,300.98 L653.34,300.11 L654.85,299.18 L656.35,298.18 L657.86,297.14 L659.37,296.04 L660.88,294.89 L662.38,293.70 L663.89,292.47 L665.40,291.19 L666.90,289.86 L668.41,288.48 L669.92,287.03 L671.42,285.52 L672.93,283.93 L674.44,282.26 L675.94,280.50 L677.45,278.66 L678.96,276.71 L680.47,274.67 L681.97,272.51 L683.48,270.24 L684.99,267.84 L686.49,265.32 L688.00,262.68 L689.51,259.93 L691.01,257.07 L692.52,254.12 L694.03,251.10 L695.53,248.00 L697.04,244.83 L698.55,241.61 L700.06,238.33 L701.56,235.01 L703.07,231.63 L704.58,228.21 L706.08,224.74 L707.59,221.23 L709.10,217.67 L710.60,214.06 L712.11,210.41 L713.62,206.70 L715.12,202.96 L716.63,199.17 L718.14,195.34 L719.64,191.48 L721.15,187.60 L722.66,183.69 L724.17,179.77 L725.67,175.83 L727.18,171.86 L728.69,167.89 L730.19,163.91 L731.70,159.92 L731.70,293.40 L730.19,294.01 L728.69,294.63 L727.18,295.26 L725.67,295.88 L724.17,296.51 L722.66,297.16 L721.15,297.81 L719.64,298.49 L718.14,299.18 L716.63,299.89 L715.12,300.64 L713.62,301.42 L712.11,302.23 L710.60,303.10 L709.10,304.01 L707.59,304.97 L706.08,305.98 L704.58,307.05 L703.07,308.17 L701.56,309.36 L700.06,310.60 L698.55,311.89 L697.04,313.24 L695.53,314.63 L694.03,316.06 L692.52,317.53 L691.01,319.02 L689.51,320.54 L688.00,322.07 L686.49,323.60 L684.99,325.13 L683.48,326.64 L681.97,328.15 L680.47,329.64 L678.96,331.11 L677.45,332.56 L675.94,334.00 L674.44,335.41 L672.93,336.79 L671.42,338.15 L669.92,339.47 L668.41,340.75 L666.90,341.98 L665.40,343.17 L663.89,344.31 L662.38,345.39 L660.88,346.41 L659.37,347.37 L657.86,348.25 L656.35,349.06 L654.85,349.79 L653.34,350.43 L651.83,350.98 L650.33,351.44 L648.82,351.80 L647.31,352.06 L645.81,352.23 L644.30,352.30 L642.79,352.27 L641.29,352.15 L639.78,351.94 L638.27,351.64 L636.77,351.26 L635.26,350.80 L633.75,350.27 L632.24,349.67 L630.74,349.02 L629.23,348.31 L627.72,347.56 L626.22,346.78 L624.71,345.96 L623.20,345.13 L621.70,344.27 L620.19,343.41 L618.68,342.54 L617.18,341.66 L615.67,340.79 L614.16,339.93 L612.65,339.07 L611.15,338.21 L609.64,337.36 L608.13,336.51 L606.63,335.68 L605.12,334.85 L603.61,334.04 L602.11,333.23 L600.60,332.43 L599.09,331.65 L597.59,330.87 L596.08,330.11 L594.57,329.35 L593.06,328.61 L591.56,327.87 L590.05,327.13 L588.54,326.40 L587.04,325.68 L585.53,324.95 L584.02,324.22 L582.52,323.49 L581.01,322.75 L579.50,322.00 L578.00,321.25 L576.49,320.49 L574.98,319.72 L573.48,318.95 L571.97,318.18 L570.46,317.40 L568.95,316.64 L567.45,315.88 L565.94,315.14 L564.43,314.41 L562.93,313.71 L561.42,313.02 L559.91,312.37 L558.41,311.73 L556.90,311.13 L555.39,310.55 L553.89,310.00 L552.38,309.48 L550.87,308.99 L549.36,308.53 L547.86,308.10 L546.35,307.69 L544.84,307.32 L543.34,306.98 L541.83,306.67 L540.32,306.38 L538.82,306.13 L537.31,305.90 L535.80,305.70 L534.30,305.53 L532.79,305.38 L531.28,305.26 L529.77,305.16 L528.27,305.09 L526.76,305.04 L525.25,305.02 L523.75,305.01 L522.24,305.03 L520.73,305.07 L519.23,305.13 L517.72,305.21 L516.21,305.30 L514.71,305.41 L513.20,305.53 L511.69,305.67 L510.19,305.81 L508.68,305.96 L507.17,306.12 L505.66,306.28 L504.16,306.45 L502.65,306.62 L501.14,306.79 L499.64,306.97 L498.13,307.15 L496.62,307.33 L495.12,307.52 L493.61,307.72 L492.10,307.92 L490.60,308.13 L489.09,308.35 L487.58,308.57 L486.07,308.80 L484.57,309.04 L483.06,309.29 L481.55,309.55 L480.05,309.81 L478.54,310.09 L477.03,310.38 L475.53,310.68 L474.02,310.99 L472.51,311.31 L471.01,311.64 L469.50,311.99 L467.99,312.35 L466.48,312.72 L464.98,313.09 L463.47,313.47 L461.96,313.85 L460.46,314.23 L458.95,314.61 L457.44,314.98 L455.94,315.35 L454.43,315.72 L452.92,316.08 L451.42,316.45 L449.91,316.80 L448.40,317.16 L446.89,317.52 L445.39,317.87 L443.88,318.22 L442.37,318.56 L440.87,318.91 L439.36,319.25 L437.85,319.59 L436.35,319.94 L434.84,320.27 L433.33,320.61 L431.83,320.95 L430.32,321.28 L428.81,321.62 L427.31,321.95 L425.80,322.28 L424.29,322.61 L422.78,322.94 L421.28,323.27 L419.77,323.60 L418.26,323.93 L416.76,324.26 L415.25,324.59 Z" fill="rgba(255,0,0,0.43)"/>
<path d="M415.25,259.18 L416.76,259.55 L418.26,259.91 L419.77,260.27 L421.28,260.63 L422.78,261.00 L424.29,261.36 L425.80,261.72 L427.31,262.08 L428.81,262.45 L430.32,262.81 L431.83,263.17 L433.33,263.53 L434.84,263.90 L436.35,264.26 L437.85,264.62 L439.36,264.99 L440.87,265.35 L442.37,265.71 L443.88,266.08 L445.39,266.44 L446.89,266.80 L448.40,267.17 L449.91,267.53 L451.42,267.89 L452.92,268.26 L454.43,268.62 L455.94,268.99 L457.44,269.35 L458.95,269.72 L460.46,270.08 L461.96,270.45 L463.47,270.82 L464.98,271.18 L466.48,271.55 L467.99,271.93 L469.50,272.30 L471.01,272.68 L472.51,273.07 L474.02,273.46 L475.53,273.85 L477.03,274.24 L478.54,274.64 L480.05,275.04 L481.55,275.44 L483.06,275.84 L484.57,276.24 L486.07,276.65 L487.58,277.05 L489.09,277.45 L490.60,277.86 L492.10,278.26 L493.61,278.65 L495.12,279.05 L496.62,279.45 L498.13,279.84 L499.64,280.22 L501.14,280.61 L502.65,280.99 L504.16,281.36 L505.66,281.73 L507.17,282.09 L508.68,282.45 L510.19,282.81 L511.69,283.16 L513.20,283.51 L514.71,283.85 L516.21,284.20 L517.72,284.54 L519.23,284.88 L520.73,285.22 L522.24,285.56 L523.75,285.90 L525.25,286.24 L526.76,286.59 L528.27,286.93 L529.77,287.27 L531.28,287.62 L532.79,287.96 L534.30,288.31 L535.80,288.66 L537.31,289.01 L538.82,289.36 L540.32,289.72 L541.83,290.08 L543.34,290.44 L544.84,290.82 L546.35,291.20 L547.86,291.59 L549.36,291.99 L550.87,292.41 L552.38,292.83 L553.89,293.27 L555.39,293.72 L556.90,294.19 L558.41,294.67 L559.91,295.16 L561.42,295.67 L562.93,296.19 L564.43,296.73 L565.94,297.28 L567.45,297.85 L568.95,298.43 L570.46,299.03 L571.97,299.64 L573.48,300.26 L574.98,300.90 L576.49,301.54 L578.00,302.21 L579.50,302.88 L581.01,303.56 L582.52,304.26 L584.02,304.96 L585.53,305.68 L587.04,306.42 L588.54,307.16 L590.05,307.92 L591.56,308.69 L593.06,309.48 L594.57,310.27 L596.08,311.08 L597.59,311.90 L599.09,312.72 L600.60,313.55 L602.11,314.38 L603.61,315.21 L605.12,316.04 L606.63,316.86 L608.13,317.68 L609.64,318.49 L611.15,319.29 L612.65,320.07 L614.16,320.83 L615.67,321.58 L617.18,322.30 L618.68,323.00 L620.19,323.68 L621.70,324.32 L623.20,324.93 L624.71,325.51 L626.22,326.05 L627.72,326.55 L629.23,327.00 L630.74,327.41 L632.24,327.76 L633.75,328.06 L635.26,328.30 L636.77,328.48 L638.27,328.59 L639.78,328.63 L641.29,328.59 L642.79,328.46 L644.30,328.26 L645.81,327.97 L647.31,327.60 L648.82,327.15 L650.33,326.60 L651.83,325.98 L653.34,325.27 L654.85,324.48 L656.35,323.62 L657.86,322.69 L659.37,321.70 L660.88,320.65 L662.38,319.55 L663.89,318.39 L665.40,317.18 L666.90,315.92 L668.41,314.61 L669.92,313.25 L671.42,311.83 L672.93,310.36 L674.44,308.83 L675.94,307.25 L677.45,305.61 L678.96,303.91 L680.47,302.15 L681.97,300.33 L683.48,298.44 L684.99,296.48 L686.49,294.46 L688.00,292.37 L689.51,290.23 L691.01,288.05 L692.52,285.83 L694.03,283.58 L695.53,281.31 L697.04,279.04 L698.55,276.75 L700.06,274.46 L701.56,272.18 L703.07,269.90 L704.58,267.63 L706.08,265.36 L707.59,263.10 L709.10,260.84 L710.60,258.58 L712.11,256.32 L713.62,254.06 L715.12,251.80 L716.63,249.53 L718.14,247.26 L719.64,244.98 L721.15,242.71 L722.66,240.43 L724.17,238.14 L725.67,235.85 L727.18,233.56 L728.69,231.26 L730.19,228.96 L731.70,226.66" fill="none" stroke="#ff3c3c" stroke-width="1.1" stroke-dasharray="8.2 4.2"/>
<line x1="408.5" x2="408.5" y1="13.7" y2="360.84999999999997" stroke="#6c6c6c" stroke-width="1.4"/>
<line x1="407.8" x2="738" y1="360.15" y2="360.15" stroke="#5c5c5c" stroke-width="1.4"/>
<line x1="404.5" x2="408.5" y1="29.51" y2="29.51" stroke="#5c5c5c" stroke-width="1"/>
<text x="401.6" y="34.31" text-anchor="end" class="tk">2.5</text>
<line x1="404.5" x2="408.5" y1="109.50" y2="109.50" stroke="#5c5c5c" stroke-width="1"/>
<text x="401.6" y="114.30" text-anchor="end" class="tk">1.5</text>
<line x1="404.5" x2="408.5" y1="173.00" y2="173.00" stroke="#5c5c5c" stroke-width="1"/>
<text x="401.6" y="177.80" text-anchor="end" class="tk">1.0</text>
<line x1="404.5" x2="408.5" y1="207.94" y2="207.94" stroke="#5c5c5c" stroke-width="1"/>
<text x="401.6" y="212.74" text-anchor="end" class="tk">0.8</text>
<line x1="404.5" x2="408.5" y1="281.55" y2="281.55" stroke="#5c5c5c" stroke-width="1"/>
<text x="401.6" y="286.35" text-anchor="end" class="tk">0.5</text>
<line x1="404.5" x2="408.5" y1="316.49" y2="316.49" stroke="#5c5c5c" stroke-width="1"/>
<text x="401.6" y="321.29" text-anchor="end" class="tk">0.4</text>
<line x1="415.40" x2="415.40" y1="360.15" y2="364.45" stroke="#5c5c5c" stroke-width="1"/>
<text x="415.40" y="374.80" text-anchor="middle" class="tk">15</text>
<line x1="460.54" x2="460.54" y1="360.15" y2="364.45" stroke="#5c5c5c" stroke-width="1"/>
<text x="460.54" y="374.80" text-anchor="middle" class="tk">30</text>
<line x1="505.68" x2="505.68" y1="360.15" y2="364.45" stroke="#5c5c5c" stroke-width="1"/>
<text x="505.68" y="374.80" text-anchor="middle" class="tk">45</text>
<line x1="550.83" x2="550.83" y1="360.15" y2="364.45" stroke="#5c5c5c" stroke-width="1"/>
<text x="550.83" y="374.80" text-anchor="middle" class="tk">60</text>
<line x1="595.97" x2="595.97" y1="360.15" y2="364.45" stroke="#5c5c5c" stroke-width="1"/>
<text x="595.97" y="374.80" text-anchor="middle" class="tk">75</text>
<line x1="641.11" x2="641.11" y1="360.15" y2="364.45" stroke="#5c5c5c" stroke-width="1"/>
<text x="641.11" y="374.80" text-anchor="middle" class="tk">90</text>
<line x1="686.25" x2="686.25" y1="360.15" y2="364.45" stroke="#5c5c5c" stroke-width="1"/>
<text x="686.25" y="374.80" text-anchor="middle" class="tk">105</text>
<line x1="731.40" x2="731.40" y1="360.15" y2="364.45" stroke="#5c5c5c" stroke-width="1"/>
<text x="731.40" y="374.80" text-anchor="middle" class="tk">120</text>
<text x="573.25" y="10.2" text-anchor="middle" class="ttl">Men</text>
<text x="573.45" y="386.70" text-anchor="middle" class="ax" style="font-size:11.8px">Baseline eGFR (ml/min/1.73m<tspan class="sup" dy="-4.6">2</tspan><tspan dy="4.6">)</tspan></text>

<rect x="147" y="23" width="40.6" height="11" fill="rgba(0,0,255,0.41)"/>
<rect x="147" y="39.8" width="40.6" height="10.6" fill="rgba(255,0,0,0.43)"/>
<text x="196" y="31.9" class="lg">White</text>
<text x="196" y="48.4" class="lg">South Asian</text>

<text transform="translate(9.3,188.1) rotate(-90)" text-anchor="middle" class="yl">Fully adjusted hazard ratio</text>
</svg>
</body></html>
